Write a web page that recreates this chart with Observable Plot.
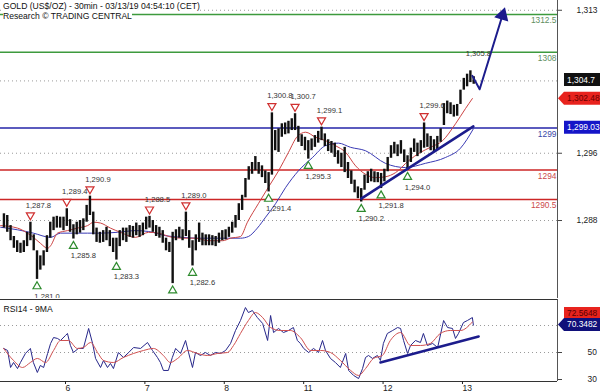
<!DOCTYPE html>
<html><head><meta charset="utf-8">
<script src="https://cdn.jsdelivr.net/npm/d3@7"></script>
<script src="https://cdn.jsdelivr.net/npm/@observablehq/plot@0.6"></script>
<style>
body{margin:0;background:#fff;}
#wrap{position:relative;width:600px;height:392px;overflow:hidden;font-family:"Liberation Sans",Arial,sans-serif;}
#wrap svg{display:block;}
#title{position:absolute;left:3px;top:1px;font-size:8.6px;line-height:10px;color:#111;}
#title span{background:#fff;}
</style></head><body>
<div id="wrap"><div id="charts"></div>
<div id="title"><span>GOLD (US$/OZ) - 30min - 03/13/19 04:54:10 (CET)</span><br><span>Research © TRADING CENTRAL</span></div>
</div>
<script>
// ---- data (hourly bars, index 0 = Mar 5 06:00) ----
const hi = [1288.8,1288.6,1287.4,1286.1,1285.6,1285.3,1285.6,1286.6,1287.8,1286.3,
1284.4,1283.8,1284.4,1286.2,1287.8,1288.4,1288.5,1288.4,1288.4,1289.4,
1288.1,1287.5,1287.8,1288.0,1288.2,1289.8,1290.9,1289.0,1287.1,1286.6,
1286.8,1287.2,1286.8,1285.9,1285.9,1286.8,1287.1,1287.1,1287.4,1287.3,
1287.7,1287.4,1287.7,1288.4,1288.5,1288.0,1287.4,1287.2,1286.8,1285.9,
1285.4,1286.6,1286.9,1287.2,1286.9,1289.0,1286.8,1285.6,1286.3,1287.7,
1286.5,1286.3,1286.3,1286.2,1286.1,1286.5,1286.8,1286.9,1287.2,1287.8,
1288.6,1290.0,1291.0,1293.0,1294.4,1294.9,1295.6,1294.9,1294.5,1293.9,
1293.7,1300.8,1298.7,1298.9,1299.5,1299.6,1299.8,1300.1,1300.7,1299.2,
1298.2,1297.9,1297.5,1297.7,1298.1,1298.6,1299.1,1298.3,1297.6,1297.4,
1297.2,1296.3,1296.0,1296.7,1294.9,1293.9,1292.8,1292.0,1291.8,1293.4,
1293.8,1294.1,1293.8,1293.7,1293.6,1294.1,1295.5,1296.9,1297.3,1297.0,
1297.5,1296.4,1295.7,1296.6,1297.7,1297.2,1297.5,1299.6,1298.3,1298.0,
1297.6,1298.0,1298.9,1301.9,1302.2,1302.0,1301.7,1301.8,1303.5,1304.9,
1305.4,1305.8,1305.1];
const lo = [1287.1,1286.6,1285.6,1284.7,1284.2,1284.1,1284.2,1284.9,1285.6,1284.4,
1281.0,1282.1,1282.6,1284.2,1285.9,1286.8,1287.1,1287.1,1286.8,1287.3,
1286.6,1285.8,1286.3,1286.5,1286.8,1287.8,1288.6,1286.3,1285.4,1285.3,
1285.4,1285.6,1284.9,1284.2,1283.3,1284.9,1285.6,1285.4,1286.0,1285.9,
1286.2,1286.0,1286.2,1286.9,1287.1,1286.6,1286.1,1285.9,1285.3,1284.4,
1284.2,1280.5,1285.6,1285.9,1285.6,1286.1,1284.7,1282.6,1284.4,1285.4,
1285.0,1285.0,1285.0,1285.0,1284.9,1285.3,1285.6,1285.7,1286.0,1286.5,
1287.1,1288.0,1289.2,1290.7,1292.8,1293.5,1293.9,1293.5,1293.1,1292.4,
1291.4,1293.4,1296.3,1296.1,1297.9,1298.2,1298.3,1298.7,1298.7,1297.3,
1296.8,1296.3,1295.3,1296.3,1296.7,1297.2,1297.5,1296.8,1296.2,1296.0,
1295.5,1294.7,1294.3,1293.7,1293.0,1292.3,1291.3,1290.6,1290.2,1291.6,
1292.4,1292.6,1292.5,1292.5,1291.8,1292.6,1293.8,1295.4,1295.9,1295.6,
1295.9,1294.9,1294.0,1294.9,1296.1,1295.6,1296.0,1296.6,1296.7,1296.3,
1296.1,1296.4,1297.3,1299.3,1300.7,1300.6,1300.3,1300.4,1301.8,1303.5,
1303.9,1304.4,1304.2];

const maRedBar = [-1.0,4.1,7.1,8.9,11.0,13.2,14.1,16.2,19.2,22.2,25.3,27.1,29.2,32.2,35.2,39.8,43.7,46.7,50.9,54.0,57.9,61.8,66.1,68.5,71.5,73.6,76.9,80.0,83.0,86.0,88.7,91.2,94.2,97.2,100.2,103.3,106.3,109.3,112.3,115.3,118.4,122.3,125.9,128.9,132.6,136.5,139.5,141.6];
const maRed = [1287.4,1287.1,1286.5,1286.0,1285.3,1284.7,1285.0,1286.5,1286.8,1287.1,1287.4,1287.8,1287.7,1287.1,1286.6,1286.0,1286.6,1286.5,1286.0,1285.9,1285.9,1285.6,1285.6,1285.9,1286.1,1287.8,1290.0,1292.0,1293.9,1296.1,1298.0,1298.5,1297.9,1297.5,1296.9,1296.1,1294.5,1293.5,1293.1,1293.2,1293.7,1295.1,1296.1,1296.7,1297.5,1299.5,1301.3,1302.5];
const maBlueBar = [-1.0,4.1,8.9,14.1,17.1,21.0,25.3,29.2,34.3,39.8,43.7,48.8,54.0,58.8,63.9,67.9,71.5,73.9,76.6,79.1,82.1,85.1,89.0,93.3,97.2,101.1,104.8,109.3,115.3,121.4,127.4,133.5,138.0,141.9];
const maBlue = [1287.2,1286.9,1286.5,1286.0,1286.5,1286.5,1286.5,1286.5,1286.6,1286.8,1286.7,1286.2,1286.0,1285.9,1285.9,1285.9,1285.9,1286.1,1287.1,1288.4,1290.0,1291.9,1293.9,1295.5,1296.9,1297.2,1296.7,1296.3,1294.8,1294.3,1294.8,1295.5,1296.6,1298.9];

const levelVals = [1312.5, 1308, 1299, 1294, 1290.5];
const levelLine = ["#3d9a3d","#3d9a3d","#2424a8","#cc2626","#cc2626"];
const levelText = ["#5f8f5f","#5f8f5f","#3a48a8","#cc4a4a","#cc4a4a"];

const gridPrice = [1313, 1304.6, 1296, 1288];
const priceTicks = [1313, 1296, 1288];

const hiPivotBar = [8,19,26,44,55,81,88,96,127,141];
const hiPivotVal = [1287.8,1289.4,1290.9,1288.5,1289.0,1300.8,1300.7,1299.1,1299.6,1305.8];
const hiPivotMark = [1,1,1,1,1,1,1,1,1,0];
const loPivotBar = [10,21,34,51,57,80,92,108,114,122];
const loPivotVal = [1281.0,1285.8,1283.3,1280.5,1282.6,1291.4,1295.3,1290.2,1291.8,1294.0];
const loPivotLabel = [1,1,1,0,1,1,1,1,1,1];

const supportBar = [108, 141.9];
const supportVal = [1290.6, 1299.2];
const projBar = [141.6, 143.8, 150.7];
const projVal = [1305.2, 1303.6, 1312.4];

const lastPrice = 1304.7, lastRedMa = 1302.48, lastBlueMa = 1299.03;

const rsiBar = [-0.1,1.1,2.0,2.9,4.1,5.0,6.5,8.0,8.9,10.1,11.0,12.0,13.2,14.1,15.0,16.2,17.1,18.6,19.2,20.1,21.0,22.5,24.0,25.6,26.8,27.7,29.2,30.1,31.3,32.2,33.1,34.6,36.1,37.7,39.2,41.3,43.4,44.9,46.4,47.3,48.2,49.7,50.9,51.9,53.4,54.9,55.8,57.0,57.9,59.4,60.9,62.4,63.9,65.5,67.0,68.5,70.0,71.5,73.0,73.9,75.1,76.6,78.2,79.7,80.6,81.5,83.0,84.5,86.0,87.5,88.7,89.6,90.6,92.1,93.6,95.1,96.3,97.2,98.7,100.2,101.7,103.3,104.2,105.7,107.2,108.4,109.3,110.2,111.4,112.9,113.8,114.7,115.9,117.5,119.0,119.9,120.8,122.0,122.9,124.4,125.9,126.8,128.0,129.6,131.1,132.9,134.1,135.6,136.5,137.4,138.9,140.1,141.6,141.9];
const rsiVal = [53.0,51.5,38.9,42.6,38.1,42.6,49.3,53.0,42.6,35.2,40.4,38.9,49.3,56.7,61.1,60.4,58.9,62.6,64.1,55.2,50.0,53.0,53.0,67.8,56.7,45.6,38.9,44.1,38.9,41.9,38.1,50.0,46.3,50.0,53.7,53.0,57.4,51.5,46.3,42.6,36.7,36.7,46.3,53.0,49.3,58.9,50.0,38.9,50.0,47.8,50.0,47.8,50.0,49.3,51.5,56.7,66.3,73.7,83.3,79.6,81.1,75.9,71.5,58.9,77.4,64.8,67.8,64.8,66.3,68.5,58.9,56.7,53.0,50.0,53.0,50.0,58.9,51.5,45.6,42.6,38.9,49.3,36.7,33.0,30.7,38.1,46.3,47.8,45.6,47.8,44.1,56.7,64.1,66.3,68.5,67.8,58.9,49.3,55.2,58.9,57.4,64.1,55.2,56.7,53.7,73.7,68.5,67.8,60.4,64.1,72.2,73.7,75.9,70.3];
const rsiMaBar = [-0.1,2.9,5.6,8.0,10.1,12.6,15.0,17.1,19.5,22.2,24.0,26.2,28.3,30.1,33.1,36.1,39.2,42.2,45.2,48.2,50.3,52.5,55.5,58.5,61.5,64.6,67.6,69.4,71.5,73.9,76.0,78.2,80.6,83.6,86.6,89.6,92.7,95.7,98.7,101.7,104.8,107.2,109.3,111.7,114.4,116.8,119.9,122.9,125.9,128.9,131.9,134.9,138.0,141.6];
const rsiMa = [53.0,44.1,38.9,42.6,45.6,42.6,51.5,58.9,58.9,53.0,53.7,57.4,50.0,44.1,42.6,46.3,49.3,51.5,53.0,47.8,42.6,45.6,51.5,49.3,47.8,49.3,50.0,55.2,64.1,73.7,79.6,75.9,68.5,66.3,66.3,61.1,51.5,51.5,50.0,44.1,36.7,33.0,38.1,45.6,47.8,58.9,64.8,55.2,55.2,56.7,64.1,66.3,66.3,72.6];
const rsiTrendBar = [113.8, 143.5];
const rsiTrendVal = [42.6, 61.9];
const lastRsi = 70.3482, lastRsiMa = 72.5648;
const rsiGrid = [70, 50];
const rsiTicks = [50, 30];

const dayTickBars = [18, 42, 66, 90, 114, 138];
const dayLabels = ["6", "7", "8", "11", "12", "13"];

// ---- build ----
const xMin = -1.04, xMax = 167.33;
const yMin = 1278.73, yMax = 1314.16;
const rMin = 28.52, rMax = 89.26;
const navy = "#1c1c8c";
const FONT = "Liberation Sans, Arial, sans-serif";
const fmt1 = d3.format(",.1f");

const bars = hi.map((h, i) => ({i, hi: h, lo: lo[i]}));
const zip = (a, b) => a.map((x, k) => ({x, y: b[k]}));
const levels = levelVals.map((v, k) => ({v, line: levelLine[k], txt: levelText[k], label: String(v)}));
const hiP = hiPivotBar.map((b, k) => ({b, v: hiPivotVal[k], mark: hiPivotMark[k]}));
const loP = loPivotBar.map((b, k) => ({b, v: loPivotVal[k], label: loPivotLabel[k]}));
const proj = zip(projBar, projVal);

const main = Plot.plot({
  width: 600, height: 298, marginLeft: 0, marginRight: 43, marginTop: 0, marginBottom: 0,
  x: {domain: [xMin, xMax], axis: null},
  y: {domain: [yMin, yMax]},
  color: {type: "identity"},
  style: {fontFamily: FONT, fontSize: "8.4px", color: "#222", background: "transparent"},
  marks: [
    Plot.ruleY(gridPrice, {stroke: "#9a9a9a", strokeDasharray: "1,3"}),
    Plot.ruleY(levels, {y: "v", stroke: "line", strokeWidth: 1.6}),
    Plot.line(zip(maBlueBar, maBlue), {x: "x", y: "y", stroke: "#3a3ab4", strokeWidth: 1, curve: "monotone-x"}),
    Plot.line(zip(maRedBar, maRed), {x: "x", y: "y", stroke: "#cc4444", strokeWidth: 1, curve: "monotone-x"}),
    Plot.ruleX(bars, {x: "i", y1: "lo", y2: "hi", stroke: "#111", strokeWidth: 2.4}),
    Plot.line(zip(supportBar, supportVal), {x: "x", y: "y", stroke: navy, strokeWidth: 2.5}),
    Plot.line(proj, {x: "x", y: "y", stroke: navy, strokeWidth: 2}),
    Plot.dot(proj.slice(-1), {x: "x", y: "y", symbol: "triangle", rotate: 17, r: 4.5, fill: navy, stroke: navy}),
    Plot.dot(hiP.filter(d => d.mark), {x: "b", y: "v", symbol: "triangle", rotate: 180, r: 3, stroke: "#d03030", fill: "white", strokeWidth: 1.2, dy: -7}),
    Plot.dot(loP, {x: "b", y: "v", symbol: "triangle", r: 3, stroke: "#2e8b2e", fill: "white", strokeWidth: 1.2, dy: 7}),
    Plot.text(hiP, {x: "b", y: "v", text: d => fmt1(d.v), dx: 8, dy: -17, fontSize: 7.6, fill: "#333"}),
    Plot.text(loP.filter(d => d.label), {x: "b", y: "v", text: d => fmt1(d.v), dx: 10, dy: 17, fontSize: 7.6, fill: "#333", clip: true}),
    Plot.text(levels, {y: "v", text: "label", fill: "txt", frameAnchor: "right", textAnchor: "end", dx: -1, dy: 6, fontSize: 8.4}),
    Plot.ruleX([xMax], {stroke: "#555"}),
    Plot.axisY({anchor: "right", ticks: priceTicks, tickFormat: d3.format(","), tickSize: 4, tickPadding: 15, label: null, stroke: "#444"})
  ]
});

const rsiChart = Plot.plot({
  width: 600, height: 94, marginLeft: 0, marginRight: 43, marginTop: 1, marginBottom: 11,
  x: {domain: [xMin, xMax]},
  y: {domain: [rMin, rMax]},
  style: {fontFamily: FONT, fontSize: "8.4px", color: "#222", background: "transparent"},
  marks: [
    Plot.ruleY(rsiGrid, {stroke: "#9a9a9a", strokeDasharray: "1,3"}),
    Plot.line(zip(rsiBar, rsiVal), {x: "x", y: "y", stroke: "#27278a", strokeWidth: 1}),
    Plot.line(zip(rsiMaBar, rsiMa), {x: "x", y: "y", stroke: "#d05050", strokeWidth: 1, curve: "monotone-x"}),
    Plot.line(zip(rsiTrendBar, rsiTrendVal), {x: "x", y: "y", stroke: navy, strokeWidth: 2.5}),
    Plot.ruleY([rMax], {stroke: "#333"}),
    Plot.ruleY([rMin], {stroke: "#333"}),
    Plot.ruleX([xMax], {stroke: "#555"}),
    Plot.text(["RSI14 - 9MA"], {text: d => d, frameAnchor: "top-left", textAnchor: "start", dx: 3, dy: 6, fontSize: 8.6, fill: "#111"}),
    Plot.axisY({anchor: "right", ticks: rsiTicks, tickSize: 4, tickPadding: 26, label: null, stroke: "#444"}),
    Plot.axisX({anchor: "bottom", ticks: dayTickBars, tickFormat: d => dayLabels[dayTickBars.indexOf(d)], tickSize: 3, tickPadding: 0, textAnchor: "start", dx: 2, label: null, fontSize: 8.6})
  ]
});

function tag(svg, y, text, bg, fg, arrow) {
  const h = 13, x0 = 564, x1 = 600, tip = 558;
  const pts = arrow
    ? [[tip, y], [x0, y - h / 2], [x1, y - h / 2], [x1, y + h / 2], [x0, y + h / 2]]
    : [[x0, y - h / 2], [x1, y - h / 2], [x1, y + h / 2], [x0, y + h / 2]];
  const g = d3.select(svg).append("g");
  g.append("polygon").attr("points", pts.map(p => p.join(",")).join(" ")).attr("fill", bg);
  g.append("text").attr("x", 567).attr("y", y).attr("dy", "0.35em").attr("fill", fg)
    .attr("text-anchor", "start").attr("font-size", "8.4px").attr("font-family", FONT).text(text);
}
const ys = v => main.scale("y").apply(v);
tag(main, ys(lastPrice), fmt1(lastPrice), "#111", "#fff", false);
tag(main, ys(lastRedMa), d3.format(",.2f")(lastRedMa), "#e8231e", "#6a0000", true);
tag(main, ys(lastBlueMa), d3.format(",.2f")(lastBlueMa), "#1515c8", "#fff", false);
const rs = v => rsiChart.scale("y").apply(v);
const yNavy = rs(lastRsi);
tag(rsiChart, Math.min(rs(lastRsiMa), yNavy - 11), d3.format(".4f")(lastRsiMa), "#e8231e", "#5a0000", false);
tag(rsiChart, yNavy, d3.format(".4f")(lastRsi), "#10107a", "#fff", true);

document.getElementById("charts").append(main, rsiChart);
</script>
</body></html>
